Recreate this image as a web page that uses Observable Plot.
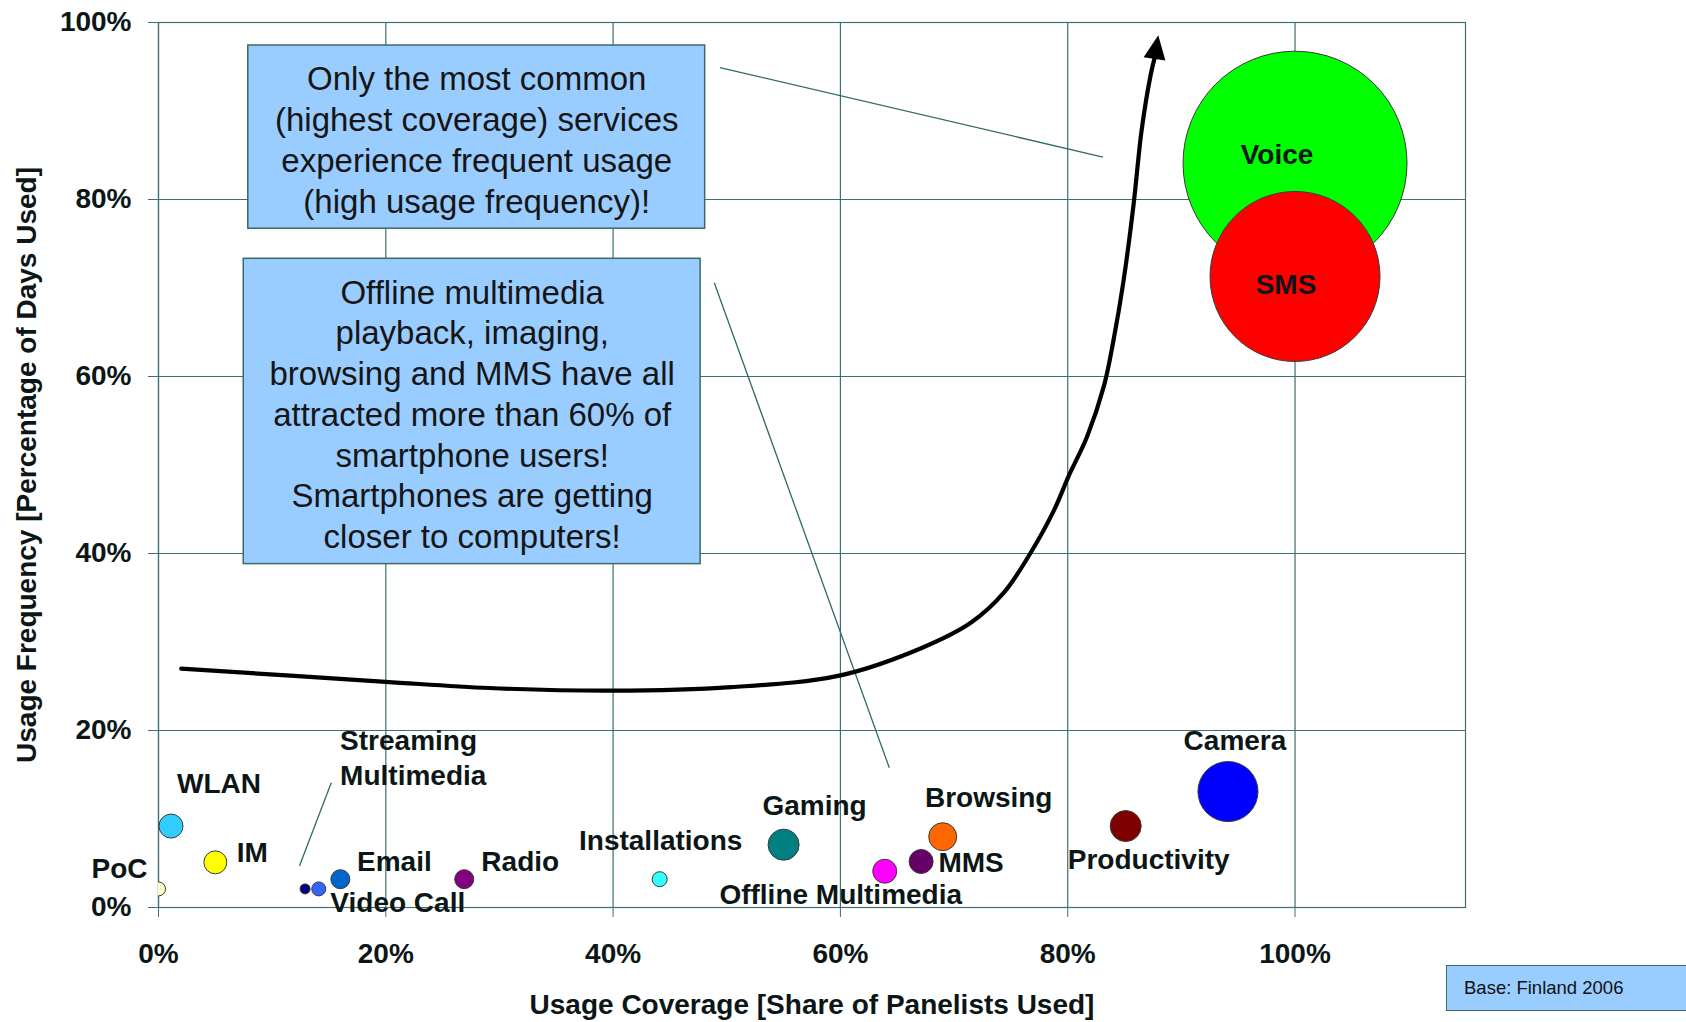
<!DOCTYPE html>
<html>
<head>
<meta charset="utf-8">
<script src="https://cdn.jsdelivr.net/npm/d3@7"></script>
<script src="https://cdn.jsdelivr.net/npm/@observablehq/plot@0.6"></script>
<style>
html,body{margin:0;padding:0;background:#fff;overflow:hidden}
#wrap{position:relative;width:1686px;height:1022px}
#base{position:absolute;left:1446px;top:965px;width:260px;height:46px;box-sizing:border-box;background:#99ccff;border:1.5px solid #3d6a6a;font:18.5px "Liberation Sans",Arial,sans-serif;color:#111;padding-left:17px;line-height:43px;z-index:2}
</style>
</head>
<body>
<div id="wrap"></div>
<script>
// ---- data ----
const services = ["Voice","SMS","Camera","Productivity","Browsing","MMS","Offline Multimedia","Gaming","Installations","Radio","Email","Video Call","Streaming Multimedia","IM","WLAN","PoC"];
const coverage = [1.00,1.00,0.941,0.851,0.690,0.671,0.639,0.550,0.441,0.269,0.160,0.141,0.129,0.050,0.011,0.000];
const frequency = [0.841,0.713,0.131,0.092,0.080,0.052,0.041,0.071,0.032,0.032,0.032,0.021,0.021,0.051,0.092,0.021];
const bubbleSize = [100,57.6,7.2,1.92,1.56,1.15,1.15,1.92,0.45,0.72,0.72,0.39,0.2,1.05,1.15,0.39];

const xTicks = [0,0.2,0.4,0.6,0.8,1.0];
const yTicks = [0,0.2,0.4,0.6,0.8,1.0];

const trendX = [0.020,0.200,0.291,0.399,0.504,0.599,0.671,0.715,0.744,0.767,0.788,0.801,0.817,0.832,0.840,0.849,0.858,0.865,0.873,0.8765];
const trendY = [0.270,0.255,0.248,0.245,0.249,0.262,0.293,0.322,0.356,0.400,0.449,0.488,0.532,0.590,0.639,0.707,0.795,0.878,0.941,0.960];

const xTitle = "Usage Coverage [Share of Panelists Used]";
const yTitle = "Usage Frequency [Percentage of Days Used]";
const baseNote = "Base: Finland 2006";

const noteTexts = [
  "Only the most common\n(highest coverage) services\nexperience frequent usage\n(high usage frequency)!",
  "Offline multimedia\nplayback, imaging,\nbrowsing and MMS have all\nattracted more than 60% of\nsmartphone users!\nSmartphones are getting\ncloser to computers!"
];
const noteX1 = [0.079,0.075];
const noteX2 = [0.481,0.477];
const noteY1 = [0.767,0.388];
const noteY2 = [0.974,0.733];
const noteCX = [0.280,0.276];
const noteCY = [0.869,0.559];

const leaderX1 = [0.494,0.489,0.152];
const leaderY1 = [0.949,0.706,0.141];
const leaderX2 = [0.831,0.643,0.124];
const leaderY2 = [0.848,0.158,0.047];

// ---- styles ----
const colors = {
  "Voice":"#00ff00","SMS":"#ff0000","Camera":"#0000ff","Productivity":"#7f0000",
  "Browsing":"#ff6600","MMS":"#660066","Offline Multimedia":"#ff00ff","Gaming":"#008080",
  "Installations":"#33ffff","Radio":"#800080","Email":"#0066cc","Video Call":"#3366ff",
  "Streaming Multimedia":"#000080","IM":"#ffff00","WLAN":"#33ccff","PoC":"#ffffcc"
};
const labelOffset = {
  "Voice":[-18,-8],"SMS":[-9,9],"Camera":[7,-51],"Productivity":[23,34],"Browsing":[46,-39],
  "MMS":[50,2],"Offline Multimedia":[-44,24],"Gaming":[31,-39],"Installations":[1,-38],
  "Radio":[56,-17],"Email":[54,-17],"Video Call":[79,14],"IM":[37,-9],"WLAN":[48,-42],"PoC":[-39,-20]
};
const gridColor = "#3f6f6f";
const textColor = "#0c1616";
const FONT = '"Liberation Sans", Arial, Helvetica, sans-serif';

const points = services.map((name,i)=>({name, x: coverage[i], y: frequency[i], size: bubbleSize[i]}));
const trend = trendX.map((x,i)=>({x, y: trendY[i]}));
const notes = noteTexts.map((text,i)=>({text, x1: noteX1[i], x2: noteX2[i], y1: noteY1[i], y2: noteY2[i], cx: noteCX[i], cy: noteCY[i]}));
const leaders = leaderX1.map((x1,i)=>({x1, y1: leaderY1[i], x2: leaderX2[i], y2: leaderY2[i]}));

const arrowHead = {draw(ctx){ ctx.moveTo(0,-23); ctx.lineTo(11,1); ctx.lineTo(-11,1); ctx.closePath(); }};

const labelMarks = points.filter(d => labelOffset[d.name]).map(d =>
  Plot.text([d], {x:"x", y:"y", text:"name", dx: labelOffset[d.name][0], dy: labelOffset[d.name][1],
    fontSize: 28, fontWeight: "bold", fill: textColor})
);
const streaming = points.find(d => d.name === "Streaming Multimedia");

const chart = Plot.plot({
  width: 1686, height: 1022,
  marginLeft: 158, marginRight: 221, marginTop: 22, marginBottom: 115,
  style: {fontFamily: FONT, fontSize: "28px", fontWeight: "bold", background: "white", color: textColor, overflow: "visible"},
  x: {domain: [0, 1.15], axis: null},
  y: {domain: [0, 1], axis: null},
  r: {type: "sqrt", domain: [0, 100], range: [0, 112]},
  marks: [
    Plot.gridX(xTicks, {stroke: gridColor, strokeOpacity: 1, strokeWidth: 1.2}),
    Plot.gridY(yTicks, {stroke: gridColor, strokeOpacity: 1, strokeWidth: 1.2}),
    Plot.frame({stroke: gridColor, strokeWidth: 1.2}),
    Plot.axisX({ticks: xTicks, tickFormat: d => Math.round(d*100) + "%", tickSize: 10, tickPadding: 26,
      stroke: gridColor, color: textColor, fontSize: 28, fontWeight: "bold", label: null}),
    Plot.axisY({ticks: yTicks, tickFormat: d => Math.round(d*100) + "%", tickSize: 10, tickPadding: 17,
      stroke: gridColor, color: textColor, fontSize: 28, fontWeight: "bold", label: null}),
    Plot.text([xTitle], {frameAnchor: "bottom", text: d => d, dy: 98, textAnchor: "middle", lineAnchor: "middle", fontSize: 28, fontWeight: "bold", fill: textColor}),
    Plot.text([yTitle], {frameAnchor: "left", text: d => d, dx: -131, rotate: -90, textAnchor: "middle", lineAnchor: "middle", fontSize: 28, fontWeight: "bold", fill: textColor}),
    Plot.rect(notes, {x1: "x1", x2: "x2", y1: "y1", y2: "y2", fill: "#99ccff", stroke: "#3b6a6a", strokeWidth: 1.5}),
    Plot.text(notes, {x: "cx", y: "cy", text: "text", fontSize: 33, fontWeight: "normal", lineHeight: 1.235, fill: "#151515"}),
    Plot.link(leaders, {x1: "x1", y1: "y1", x2: "x2", y2: "y2", stroke: "#2f6a6a", strokeWidth: 1.3}),
    Plot.line(trend, {x: "x", y: "y", curve: "catmull-rom", stroke: "#000", strokeWidth: 4.2}),
    Plot.dot(trend.slice(-1), {x: "x", y: "y", symbol: arrowHead, r: 1, fill: "#000", stroke: "none", rotate: 9}),
    Plot.dot(points, {x: "x", y: "y", r: "size", fill: d => colors[d.name], stroke: "#3a3a3a", strokeWidth: 1, clip: true}),
    ...labelMarks,
    Plot.text([streaming], {x: "x", y: "y", text: () => "Streaming\nMultimedia", textAnchor: "start", dx: 35, dy: -133,
      lineHeight: 1.25, fontSize: 28, fontWeight: "bold", fill: textColor})
  ]
});

const wrap = document.getElementById("wrap");
wrap.appendChild(chart);
const base = document.createElement("div");
base.id = "base";
base.textContent = baseNote;
wrap.appendChild(base);
</script>
</body>
</html>
